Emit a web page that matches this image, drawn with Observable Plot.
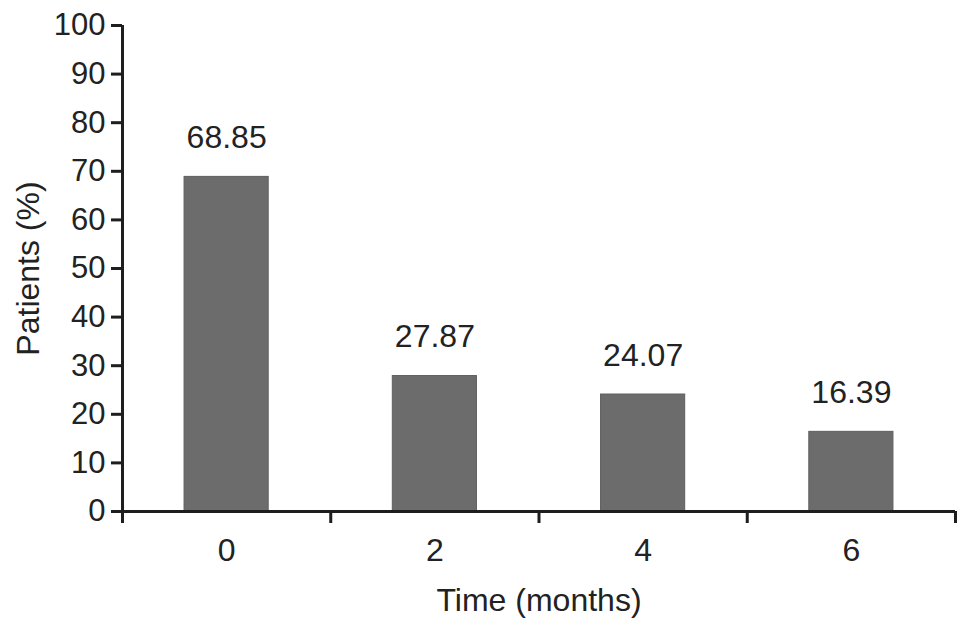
<!DOCTYPE html>
<html>
<head>
<meta charset="utf-8">
<script src="https://cdn.jsdelivr.net/npm/d3@7"></script>
<script src="https://cdn.jsdelivr.net/npm/@observablehq/plot@0.6"></script>
<style>
  html, body { margin: 0; padding: 0; background: #fff; }
  svg { font-family: "Liberation Sans", Arial, sans-serif; }
</style>
</head>
<body>
<div id="chart"></div>
<script>
const months = [0, 2, 4, 6];
const patients = [68.85, 27.87, 24.07, 16.39];
const yTicks = [0, 10, 20, 30, 40, 50, 60, 70, 80, 90, 100];
const xBounds = [-1, 1, 3, 5, 7];

const data = months.map((m, i) => ({month: m, value: patients[i]}));
const halfW = 0.404;
const ink = "#1e1e1e";

const chart = Plot.plot({
  width: 969,
  height: 633,
  marginLeft: 122,
  marginRight: 14,
  marginTop: 25,
  marginBottom: 122,
  style: {fontFamily: "'Liberation Sans', Arial, sans-serif", background: "#fff"},
  x: {type: "linear", domain: [-1, 7]},
  y: {domain: [0, 100]},
  marks: [
    Plot.rectY(data, {x1: d => d.month - halfW, x2: d => d.month + halfW, y1: 0, y2: "value", fill: "#6c6c6c", stroke: "#5e5e5e", strokeWidth: 1}),
    Plot.text(data, {x: "month", y: "value", text: d => d.value.toFixed(2), dy: -39, fontSize: 32, fill: "#222"}),
    Plot.axisY({ticks: yTicks, tickSize: 11, tickPadding: 6, fontSize: 31, stroke: ink, strokeWidth: 3, color: "#222", label: null}),
    Plot.axisX({ticks: months, tickSize: 0, tickPadding: 27, fontSize: 32, color: "#222", label: null}),
    Plot.axisX({ticks: xBounds, tickSize: 12, tickFormat: () => "", stroke: ink, strokeWidth: 3, label: null}),
    Plot.ruleX([-1], {y1: 0, y2: 100, stroke: ink, strokeWidth: 3}),
    Plot.ruleY([0], {x1: -1, x2: 7, stroke: ink, strokeWidth: 3}),
    Plot.text(["Patients (%)"], {frameAnchor: "left", textAnchor: "middle", dx: -94, rotate: -90, fontSize: 32, fill: "#222"}),
    Plot.text(["Time (months)"], {frameAnchor: "bottom", dy: 99, fontSize: 32, fill: "#222"})
  ]
});
document.getElementById("chart").appendChild(chart);
</script>
</body>
</html>
